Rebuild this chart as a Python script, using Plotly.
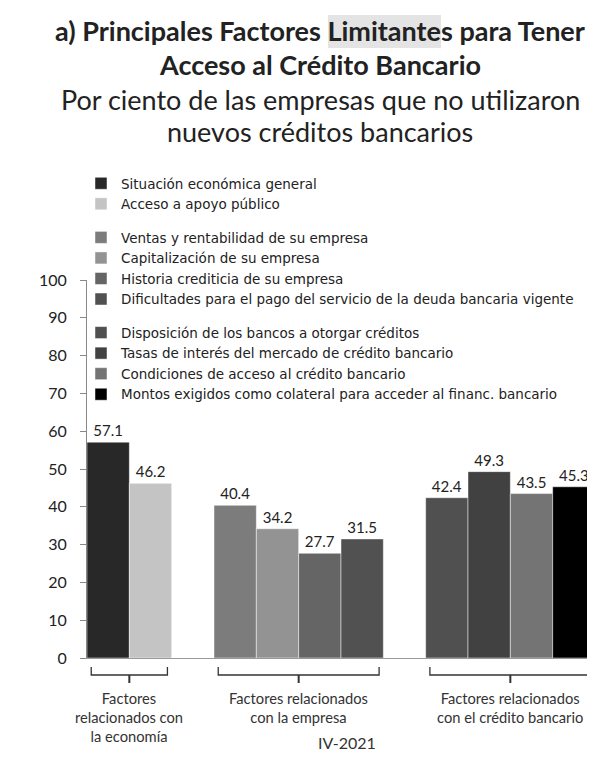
import plotly.graph_objects as go

# ---- data ----
group_labels = [
    "Factores<br>relacionados con<br>la economía",
    "Factores relacionados<br>con la empresa",
    "Factores relacionados<br>con el crédito bancario",
]
series_names = [
    ["Situación económica general", "Acceso a apoyo público"],
    ["Ventas y rentabilidad de su empresa", "Capitalización de su empresa",
     "Historia crediticia de su empresa",
     "Dificultades para el pago del servicio de la deuda bancaria vigente"],
    ["Disposición de los bancos a otorgar créditos",
     "Tasas de interés del mercado de crédito bancario",
     "Condiciones de acceso al crédito bancario",
     "Montos exigidos como colateral para acceder al financ. bancario"],
]
series_values = [
    [57.1, 46.2],
    [40.4, 34.2, 27.7, 31.5],
    [42.4, 49.3, 43.5, 45.3],
]
series_colors = [
    ["#282828", "#c4c4c4"],
    ["#7c7c7c", "#939393", "#656565", "#515151"],
    ["#505050", "#414141", "#747474", "#000000"],
]
title_lines = [
    "<b>a) Principales Factores Limitantes para Tener</b>",
    "<b>Acceso al Crédito Bancario</b>",
    "Por ciento de las empresas que no utilizaron",
    "nuevos créditos bancarios",
]
period_label = "IV-2021"
y_ticks = [0, 10, 20, 30, 40, 50, 60, 70, 80, 90, 100]

FONT = "Lato"
LEG_FONT = "DejaVu Sans"
OFF = 8                      # page body margin
PAGE_W, PAGE_H = 595, 757
W, H = PAGE_W - OFF, PAGE_H - OFF
# plot area in page pixels: x 87..595, y 280..658
ML, MR, MT, MB = 87 - OFF, 0, 280 - OFF, PAGE_H - 658
PW = W - ML - MR
PH = H - MT - MB

def px_x(p):   # page pixel -> paper x
    return (p - OFF - ML) / PW

def px_y(p):   # page pixel -> paper y
    return (H - MB - (p - OFF)) / PH

fig = go.Figure()
shapes = []
annotations = []

slot = 0
for gi, (names, vals, cols) in enumerate(zip(series_names, series_values, series_colors)):
    start = slot
    for n, v, c in zip(names, vals, cols):
        fig.add_trace(go.Bar(
            x=[slot], y=[v], name=n, width=1,
            marker=dict(color=c, line=dict(color="rgba(255,255,255,0.6)", width=0.8)),
            text=[f"{v:.1f}"], textposition="outside", cliponaxis=False,
            textfont=dict(family=FONT, size=15, color="#222"),
            legendgroup=f"g{gi}", showlegend=True,
        ))
        slot += 1
    end = slot - 1
    mid = (start + end) / 2
    x0, x1 = start - 0.4, end + 0.4
    yt, yb, ys = px_y(667), px_y(675), px_y(683)
    shapes.append(dict(type="path", xref="x", yref="paper",
                       path=f"M {x0},{yt} L {x0},{yb} L {x1},{yb} L {x1},{yt}",
                       line=dict(color="#333", width=1.3)))
    shapes.append(dict(type="line", xref="x", yref="paper", x0=mid, x1=mid, y0=yb, y1=ys,
                       line=dict(color="#333", width=2)))
    annotations.append(dict(x=mid, xref="x", y=px_y(687), yref="paper", yanchor="top",
                            text=group_labels[gi], showarrow=False, align="center",
                            font=dict(family=FONT, size=14.7, color="#333")))
    slot += 1

n_slots = slot - 1

annotations.append(dict(x=px_x(347), xref="paper", y=px_y(742), yref="paper", yanchor="middle",
                        text=period_label, showarrow=False,
                        font=dict(family=FONT, size=16, color="#333")))

# title lines
for line, yc in zip(title_lines, [31, 65, 100, 132]):
    annotations.append(dict(x=px_x(320), xref="paper", y=px_y(yc), yref="paper",
                            xanchor="center", yanchor="middle", text=line, showarrow=False,
                            font=dict(family=FONT, size=27, color="#222")))

# highlight behind "Limitantes"
shapes.append(dict(type="rect", xref="paper", yref="paper", layer="below",
                   x0=px_x(328), x1=px_x(441), y0=px_y(48), y1=px_y(15),
                   fillcolor="#e4e4e4", line=dict(width=0)))

fig.update_layout(
    width=W, height=H,
    margin=dict(l=ML, r=MR, t=MT, b=MB),
    paper_bgcolor="white", plot_bgcolor="white",
    barmode="overlay",
    xaxis=dict(range=[-0.5, n_slots - 0.5], showticklabels=False, ticks="",
               showgrid=False, zeroline=False, showline=True, linecolor="#999", linewidth=1),
    yaxis=dict(range=[0, 100], tickvals=y_ticks, ticks="outside", ticklen=6,
               tickcolor="#888", showgrid=False, zeroline=False, showline=True,
               linecolor="#888", linewidth=1, ticklabelstandoff=10,
               tickfont=dict(family=FONT, size=16, color="#222")),
    legend=dict(x=px_x(81), xanchor="left", y=px_y(168), yanchor="top",
                traceorder="grouped", tracegroupgap=13, bgcolor="rgba(0,0,0,0)",
                font=dict(family=LEG_FONT, size=13.5, color="#222"), itemclick=False),
    shapes=shapes,
    annotations=annotations,
    showlegend=True,
)

fig.write_html("out.html")
